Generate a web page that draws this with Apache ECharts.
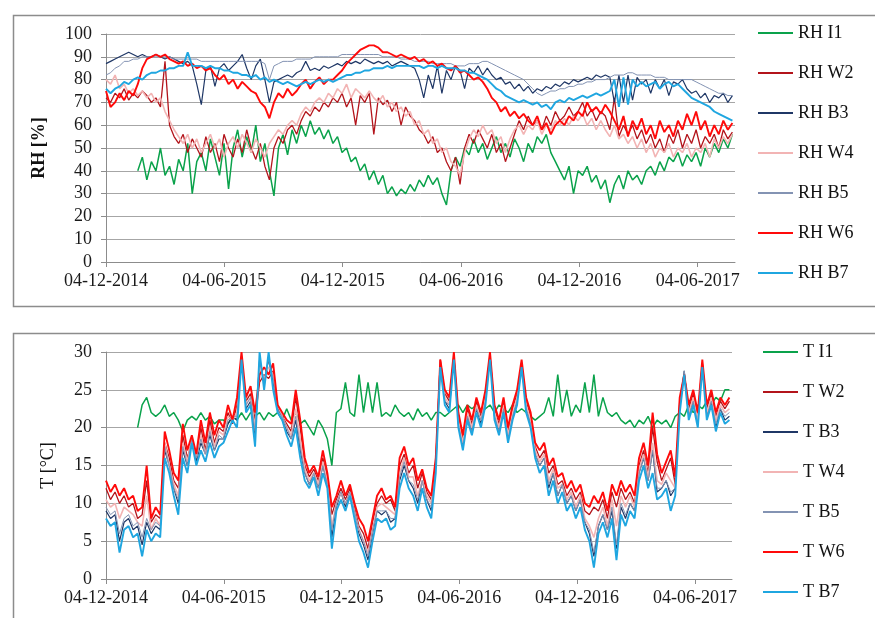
<!DOCTYPE html>
<html>
<head>
<meta charset="utf-8">
<script src="https://cdn.jsdelivr.net/npm/echarts@6.0.0/dist/echarts.min.js"></script>
<style>
html,body{margin:0;padding:0;background:#fff;}
#c{width:875px;height:618px;}
</style>
</head>
<body>
<div id="c"></div>
<script>
// Sampling: one value per week, starting 04-12-2014 (day 0)
const STEP_DAYS = 7;
const tickLabels = ['04-12-2014','04-06-2015','04-12-2015','04-06-2016','04-12-2016','04-06-2017'];

const rhNames = ['RH I1','RH W2','RH B3','RH W4','RH B5','RH W6','RH B7'];
const tNames  = ['T I1','T W2','T B3','T W4','T B5','T W6','T B7'];

// ---- RH [%] ----
const RH_I1 = [null,null,null,null,null,null,null,40,46,36,
44,40,50,38,42,34,45,40,52,30,
44,48,40,54,46,38,52,32,50,58,
46,55,48,60,44,52,40,29,50,56,
47,58,52,60,55,62,56,59,54,58,
52,55,48,50,44,46,40,43,36,40,
34,38,30,33,29,32,30,34,31,36,
33,38,34,37,30,25,40,46,42,50,
47,54,48,52,45,50,55,48,52,46,
54,50,44,52,48,55,52,56,48,44,
40,36,42,30,40,38,42,35,38,32,
36,26,34,38,32,40,36,38,34,40,
42,38,44,40,46,44,48,42,47,44,
48,42,50,46,52,48,54,50,56];

const RH_W2 = [72,70,74,72,76,71,74,72,75,73,
70,72,68,88,60,55,52,56,48,54,
50,46,55,48,52,44,56,50,46,54,
48,58,50,45,52,42,36,50,55,52,
58,60,56,62,66,64,68,66,70,68,
72,70,74,68,72,60,73,70,74,56,
72,69,71,66,70,60,68,64,62,58,
56,52,55,48,50,44,40,46,34,50,
56,52,58,54,50,56,48,52,44,50,
56,62,58,64,60,62,58,64,60,66,
62,64,68,64,66,70,64,67,62,66,
64,58,72,55,60,56,60,54,58,52,
56,50,54,48,56,52,58,50,56,52,
58,50,55,52,56,50,58,54,57];

const RH_B3 = [87,88,89,90,91,92,91,90,91,90,
90,91,90,89,90,89,88,87,88,86,
78,69,84,86,77,85,87,84,86,88,
91,85,80,86,89,80,70,79,80,81,
82,81,83,84,88,84,85,84,86,85,
86,87,86,88,87,88,87,89,88,87,
88,87,88,86,87,88,87,86,85,80,
72,82,76,86,74,84,80,86,84,76,
85,83,86,82,85,82,80,81,78,79,
76,78,75,77,74,76,75,77,76,78,
77,79,78,80,79,80,81,80,82,81,
82,81,70,82,70,82,71,81,78,80,
74,80,76,80,73,79,78,80,76,74,
75,72,74,70,73,72,74,70,73];

const RH_W4 = [80,78,82,76,78,74,76,73,75,72,
74,70,72,66,62,58,55,52,56,50,
54,48,52,56,50,54,46,52,55,50,
56,52,48,54,50,46,52,55,58,56,
60,62,60,65,68,66,70,72,70,74,
72,76,74,78,72,76,74,72,75,72,
70,73,68,70,66,68,64,66,60,62,
56,58,52,54,48,50,44,42,38,48,
54,58,55,60,56,58,52,55,48,54,
58,60,56,60,58,62,56,60,58,62,
60,63,60,64,62,65,60,63,58,62,
58,55,60,54,56,52,55,50,54,48,
52,46,50,48,52,46,50,48,52,46,
50,48,52,46,54,50,55,52,56];

const RH_B5 = [82,83,85,86,88,88,89,89,90,90,
90,90,90,90,90,89,89,89,89,89,
89,88,88,88,88,88,88,88,88,88,
88,88,88,88,88,87,80,86,87,88,
88,88,89,89,89,89,90,90,90,90,
90,90,91,91,91,91,91,91,91,91,
91,90,90,90,90,89,89,89,88,88,
88,88,87,87,87,87,87,86,86,86,
87,87,87,88,88,87,86,85,84,83,
82,81,80,78,76,74,73,74,75,75,
76,76,77,77,78,78,79,79,80,80,
80,81,82,82,82,83,83,82,82,82,
82,81,81,81,80,80,80,80,80,80,
79,78,77,76,75,74,74,73,73];

const RH_W6 = [75,68,70,74,71,75,73,78,85,89,
90,91,90,91,89,88,87,88,86,87,
85,86,84,85,82,80,82,78,80,76,
79,77,75,74,70,68,63,70,74,72,
76,73,75,78,80,76,79,81,78,80,
80,82,84,87,89,91,93,94,95,95,
94,92,92,91,90,91,90,89,90,88,
89,87,88,86,87,85,84,86,83,84,
82,80,81,79,76,72,70,66,68,64,
66,63,65,62,60,64,58,61,56,60,
62,60,64,62,66,64,70,66,68,65,
69,66,62,58,64,55,62,58,63,56,
60,54,62,57,60,55,62,58,65,60,
66,58,62,55,60,56,62,58,61];

const RH_B7 = [76,74,76,77,79,78,80,81,80,82,
83,83,84,84,85,85,86,86,92,86,
86,86,85,86,85,85,84,84,83,83,
82,82,81,82,80,81,79,80,79,78,
79,78,77,78,79,78,79,80,79,80,
79,80,81,82,82,83,83,84,84,85,
85,85,86,85,86,86,86,86,86,86,
85,86,86,85,86,85,85,85,84,84,
83,83,82,81,80,78,76,75,73,72,
71,70,71,70,69,70,68,69,67,70,
71,70,72,71,72,73,72,73,74,73,
74,75,80,68,81,69,80,77,79,77,
78,79,76,78,79,77,78,76,74,72,
71,70,69,68,66,65,64,63,62];

// ---- T [°C] ----
const T_I1 = [null,null,null,null,null,null,null,20,23,24,
22,21.5,22,23,21.5,22,21,19.5,21,21.5,
21,22,21,21.5,20.5,21,21,20.5,21.5,21,
22,21,22,21.5,22,21,22,21.5,22,21,
22.5,21,22,20.5,21,20,19,21,20,18.5,
15,22,22.5,26,22,21.5,27,22,26,22,
26,21.5,22,21.5,23,22,21.5,22,21,22.5,
21.5,22,21,22,22,21.5,22,22.5,23,22,
23,22.5,23,22,22.5,23,22,23,22.5,22,
23,22,22.5,22,21.5,21,21.5,22,24,21.5,
27,22,25,21.5,23,22,26,22,27,21.5,
24,22,21.5,22,21,20.5,21,20,21,20.5,
21.5,20,21,20.5,21,20,21.5,22,21.5,23,
22,23,22.5,23.5,23,24,23.5,25,25];

const T_W2 = [12,10.5,11.5,10,11,9.5,10,8,8.5,13,
7.5,8.5,8,18,16,13,12,19,16,18,
16,20,17,21,18,20,19.5,22,20.5,23,
29,23.5,24.5,21,26,27,26.5,27.5,22.5,21.5,
20.5,19.5,24,20,15,13.5,14.5,13,16,13.5,
8.5,10.5,12,10.5,12,9.5,7,6,4,7.5,
10,11,10,10.5,9,15,16.5,14,15,12,
14,11.5,10.5,15.5,29,24.5,23.5,29.5,21.5,18.5,
22.5,20.5,23.5,21.5,24.5,29.5,22.5,20.5,23.5,19.5,
22.5,24.5,28.5,23.5,21.5,17.5,16,17,14,15,
12.5,13,11,12,10.5,11.5,9,8.5,9.5,9,
10.5,8,11.5,9.5,12,10.5,11.5,10,15,17,
14,20,15.5,13,14.5,16,12.5,23.5,27,22.5,
24.5,21.5,28.5,22.5,24.5,21.5,23.5,22.5,23.5];

const T_B3 = [9,8,8.5,5,7.5,8,6.5,7,4.5,7.5,
6,7,6.5,17,15,12,10,17,15,18.5,
15.5,18,16.5,19,17,18.5,18.5,20.5,21.5,21,
29.5,22.5,23.5,19,29,26,29,26,22.5,21.5,
19.5,18.5,21,17,14,12.5,14,12,15,12.5,
5.5,9.5,11.5,9.5,11.5,9,6,4.5,2.5,6,
9,8.5,9,7.5,8,13,15,13,12,10,
13,10.5,9,15,28.5,23.5,22.5,29.5,20.5,17.5,
21.5,19.5,22.5,20.5,23.5,29.5,21.5,19.5,22.5,18.5,
21.5,23.5,28.5,22.5,20.5,16.5,15,16,12,14,
11,12.5,10,11,9,10.5,7.5,6,3,7,
8.5,6.5,9,4,9.5,8,10,9,14,16,
13,17,11.5,12,13,11,12,23,27.5,21.5,
23.5,20.5,28.5,21.5,23.5,20,22.5,21,21.5];

const T_W4 = [10.5,9.5,10,8,9.5,9,8.5,7.5,7,11,
6.5,8,7,18,15,12.5,11,18,15.5,18.5,
16,19,16.5,20,17.5,19.5,19,21.5,21,22,
29,23,24,20,28,26.5,28,27,23,21.5,
20,19,22.5,18.5,14.5,13,14,12.5,15.5,13,
7,10,11.5,10,11.5,9,6.5,5,3.5,6.5,
9.5,10,9.5,9,8.5,14,16,13.5,13.5,11,
13,11,10,15,28.5,24,23,29,21,18,
22,20,23,21,24,29.5,22,20,23,19,
22,24,28.5,23,21,17,15.5,16.5,13,14.5,
12,12.5,10.5,11.5,9.5,11,8,7,5.5,8,
9.5,7,10.5,7,11,9.5,11,9.5,14.5,16.5,
13.5,18,13,12.5,14,13,12,23,27,22,
24,21,28.5,22,24,21,23,22,22.5];

const T_B5 = [9.5,8.5,9,6,8,8.5,7,7.5,5.5,8,
6.5,7.5,7,17.5,15,12,10.5,17.5,15,18.5,
16,18.5,16.5,19.5,17,19,18.5,21,21.5,21.5,
29.5,23,24,19.5,29,26,29,26.5,22.5,21.5,
20,18.5,21.5,17.5,14,12.5,14,12,15,12.5,
6.5,10,11.5,10,11.5,9,6.5,5,3,6.5,
9,9,9,8,8,13.5,15.5,13,12.5,10.5,
13,10.5,9.5,15,28.5,23.5,23,29.5,20.5,17.5,
21.5,19.5,22.5,21,23.5,29.5,21.5,19.5,22.5,18.5,
21.5,23.5,28.5,22.5,20.5,16.5,15,16,12.5,14,
11,12.5,10,11,9,10.5,7.5,6.5,3.5,7,
8.5,6.5,9.5,4.5,10,8.5,10,9,14,16,
13,17,12,12,13,11.5,12,23,27.5,21.5,
23.5,20.5,28.5,21.5,23.5,20.5,22.5,21.5,22];

const T_W6 = [13,11.5,12.5,11,12,10.5,11,9,9.5,15,
8,9.5,8.5,19.5,17,14,13,20.5,17,19,
16.5,21,18,22,19,21,20,23,21,24,
30,24,25.5,22,27,28,27,28.5,23,22,
21,20.5,25,21,16,14,15,13.5,17,14,
9.5,11,13,11,12.5,10,8,7,5,8,
11,12,10.5,11,9.5,16,17.5,15,16,13,
14.5,12,11,16,29,25,24,30,22,19,
23,21,24,22,25,30,23,21,24,20,
23,25,29,24,22,18,17,18,15,16,
13.5,14,12,13,11.5,12.5,10,9.5,11,10,
11.5,9,12.5,11,13,11.5,12.5,11,16,18,
15,22,16.5,14,15.5,17,13.5,24,27,23,
25,22,29,23,25,22,24,23,24];

const T_B7 = [8,7,7.5,3.5,6.5,7,5.5,6,3,6.5,
5,6,5.5,16,14,11,8.5,16,14,18,
15,17,15.5,18,16,17.5,18,19.5,21,20,
29,22,23,17.5,30,25,30,25,22,21,
19,17.5,20,16,13,12,13.5,11,14,12,
4,9,10.5,9,11,8,5,3.5,1.5,5,
8,7.5,8,6.5,7,12,14,12,11,9,
12,9.5,8,14,28,23,22,29,20,17,
21,19,22,20,23,29,21,19,22,18,
21,23,28,22,20,16,14,15,11,13,
10,11.5,9,10,8,9.5,6.5,5,1.5,6,
7.5,5.5,8,2.5,8.5,7,9,8,13,15,
12,14,10.5,11,12,9,11,22,27,21,
23,20,28,21,23,19.5,22,20.5,21];

const colors = ['#0aa24b','#b3141b','#1f3766','#f2b4b4','#8393b3','#ff0a0a','#1fa6e0'];
const widths = [1.5, 1.3, 1.2, 1.6, 1, 1.9, 1.9];

const FONT = '"Liberation Serif","Times New Roman",serif';

function toPairs(arr){
  const out = [];
  arr.forEach((v,i)=>{ if(v!==null) out.push([i*STEP_DAYS, v]); });
  return out;
}

function xAxisCfg(gridIndex){
  return {
    type:'value', gridIndex, min:0, max:970, interval:182.5,
    axisLine:{show:true, lineStyle:{color:'#8c8c8c', width:1}},
    axisTick:{show:true, length:5, lineStyle:{color:'#8c8c8c'}},
    splitLine:{show:false},
    axisLabel:{
      showMaxLabel:false, margin:10, fontFamily:FONT, fontSize:18, color:'#1a1a1a',
      formatter:function(v){
        const k = v/182.5;
        if (Math.abs(k-Math.round(k))<1e-6 && tickLabels[Math.round(k)]) return tickLabels[Math.round(k)];
        return '';
      }
    }
  };
}

function yAxisCfg(gridIndex, max, interval, name, bold, gap){
  return {
    type:'value', gridIndex, min:0, max, interval,
    name, nameLocation:'middle', nameGap:gap,
    nameTextStyle:{fontFamily:FONT, fontSize:18, fontWeight: bold?'bold':'normal', color:'#111'},
    axisLine:{show:true, lineStyle:{color:'#8c8c8c', width:1}},
    axisTick:{show:true, length:5, lineStyle:{color:'#8c8c8c'}},
    splitLine:{show:true, lineStyle:{color:'#a6a6a6', width:1}},
    axisLabel:{margin:14, fontFamily:FONT, fontSize:18, color:'#1a1a1a'}
  };
}

const rhData = [RH_I1,RH_W2,RH_B3,RH_W4,RH_B5,RH_W6,RH_B7];
const tData  = [T_I1,T_W2,T_B3,T_W4,T_B5,T_W6,T_B7];

const series = [];
rhNames.forEach((n,k)=>{
  series.push({name:n, type:'line', xAxisIndex:0, yAxisIndex:0, data:toPairs(rhData[k]),
    showSymbol:false, symbol:'none', color:colors[k], itemStyle:{color:colors[k]},
    lineStyle:{width:widths[k], color:colors[k]}});
});
tNames.forEach((n,k)=>{
  series.push({name:n, type:'line', xAxisIndex:1, yAxisIndex:1, data:toPairs(tData[k]),
    showSymbol:false, symbol:'none', color:colors[k], itemStyle:{color:colors[k]},
    lineStyle:{width:widths[k], color:colors[k]}});
});

const legendText = {fontFamily:FONT, fontSize:18, color:'#111', lineHeight:20};

const chart = echarts.init(document.getElementById('c'), null, {renderer:'canvas'});
chart.setOption({
  animation:false,
  backgroundColor:'#ffffff',
  graphic:[
    {type:'rect', left:11, top:13, shape:{width:880, height:291}, style:{fill:'none', stroke:'#8c8c8c', lineWidth:1.5}, silent:true},
    {type:'rect', left:11, top:331, shape:{width:880, height:300}, style:{fill:'none', stroke:'#8c8c8c', lineWidth:1.5}, silent:true}
  ],
  grid:[
    {left:106, right:140, top:34, height:228},
    {left:106, right:143, top:352, height:227}
  ],
  xAxis:[xAxisCfg(0), xAxisCfg(1)],
  yAxis:[yAxisCfg(0,100,10,'RH [%]',true,58), yAxisCfg(1,30,5,'T [°C]',false,49)],
  legend:[
    {data:rhNames, orient:'vertical', left:753, top:18, itemWidth:35, itemHeight:2, itemGap:20, icon:'rect', textStyle:legendText},
    {data:tNames, orient:'vertical', left:758, top:337, itemWidth:35, itemHeight:2, itemGap:20, icon:'rect', textStyle:legendText}
  ],
  series
});
</script>
</body>
</html>
